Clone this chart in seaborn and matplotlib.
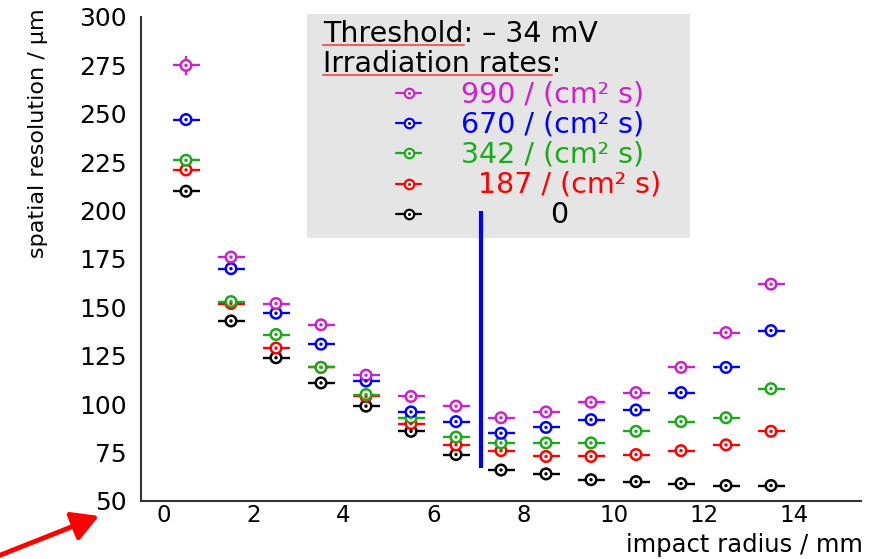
import numpy as np
import pandas as pd
import matplotlib
matplotlib.use("Agg")
import matplotlib.pyplot as plt
from matplotlib.patches import Rectangle
import seaborn as sns

# impact radius bin centres (mm)
radius = [0.5, 1.5, 2.5, 3.5, 4.5, 5.5, 6.5, 7.5, 8.5, 9.5, 10.5, 11.5, 12.5, 13.5]

# spatial resolution (µm) per irradiation rate
res_990 = [275, 176, 152, 141, 115, 104, 99, 93, 96, 101, 106, 119, 137, 162]
res_670 = [247, 170, 147, 131, 112, 96, 91, 85, 88, 92, 97, 106, 119, 138]
res_342 = [226, 153, 136, 119, 105, 93, 83, 80, 80, 80, 86, 91, 93, 108]
res_187 = [221, 152, 129, 119, 104, 90, 79, 76, 73, 73, 74, 76, 79, 86]
res_0 = [210, 143, 124, 111, 99, 86, 74, 66, 64, 61, 60, 59, 58, 58]

# vertical uncertainties (µm)
err_990 = [5, 1, 1, 1, 1, 1, 1, 1, 1, 1, 1, 1, 1, 1]
err_670 = [3.5, 1, 1, 1, 1, 1, 1, 1, 1, 1, 1, 1, 1, 1]
err_342 = [1] * 14
err_187 = [1] * 14
err_0 = [1] * 14

rate_keys = ["990", "670", "342", "187", "0"]
rate_labels = ["990 / (cm² s)", "670 / (cm² s)", "342 / (cm² s)", "187 / (cm² s)", "0"]
rate_colors = ["#cc22cc", "#0000ff", "#1aaa1a", "#ff0000", "#000000"]

# vertical marker line
marker_x = 7.05
marker_lo, marker_hi = 67, 200

series = {
    "990": (res_990, err_990),
    "670": (res_670, err_670),
    "342": (res_342, err_342),
    "187": (res_187, err_187),
    "0": (res_0, err_0),
}

rows = []
for key in rate_keys[::-1]:
    vals, errs = series[key]
    for r, v, e in zip(radius, vals, errs):
        rows.append({"radius": r, "resolution": v, "err": e, "rate": key})
df = pd.DataFrame(rows)

sns.set_theme(style="white")
plt.rcParams["font.family"] = ["DejaVu Sans"]
plt.rcParams["text.color"] = "black"

W, H = 877, 559
fig = plt.figure(figsize=(W / 100, H / 100), dpi=100)
ax = fig.add_axes([141 / W, 1 - 501 / H, 720 / W, 484 / H])
palette = dict(zip(rate_keys, rate_colors))

# horizontal bin widths and vertical errors
for key in rate_keys[::-1]:
    sub = df[df["rate"] == key]
    ax.errorbar(sub["radius"], sub["resolution"], xerr=0.3, yerr=sub["err"],
                fmt="none", ecolor=palette[key], elinewidth=1.7, capsize=0, zorder=2)

# open ring markers
sns.scatterplot(data=df, x="radius", y="resolution", hue="rate", palette=palette,
                marker="o", s=58, legend=False, ax=ax, zorder=3)
rings = ax.collections[-1]
fc = rings.get_facecolors()
rings.set_edgecolors(fc)
rings.set_facecolors("white")
rings.set_linewidths(1.8)

# centre dots
sns.scatterplot(data=df, x="radius", y="resolution", hue="rate", palette=palette,
                marker="o", s=6, linewidth=0, legend=False, ax=ax, zorder=4)

ax.vlines(marker_x, marker_lo, marker_hi, color="#0000ff", lw=3, zorder=6)

ax.set_xlim(-0.5, 15.5)
ax.set_ylim(50, 300)
ax.set_xticks(range(0, 15, 2))
ax.set_yticks(range(50, 301, 25))
ax.set_yticks([62.5], minor=True)
ax.set_xlabel("")
ax.set_ylabel("")
for s in ["top", "right"]:
    ax.spines[s].set_visible(False)
for s in ["left", "bottom"]:
    ax.spines[s].set_color("#333333")
    ax.spines[s].set_linewidth(1.5)
ax.tick_params(axis="y", which="major", direction="in", length=10, width=1.3,
               pad=10, labelsize=18, colors="#333333", labelcolor="black")
ax.tick_params(axis="y", which="minor", direction="in", length=5, width=1.3,
               colors="#333333")
ax.tick_params(axis="x", which="major", direction="in", length=6.5, width=1.3,
               pad=2, labelsize=16.5, colors="#333333", labelcolor="black")

fig.text(38 / W, 1 - 8 / H, "spatial resolution / µm", rotation=90,
         ha="center", va="top", fontsize=16, color="black")
fig.text(863 / W, 1 - 552 / H, "impact radius / mm", ha="right", va="baseline",
         fontsize=17.5, color="black")


def fx(px):
    return px / W


def fy(py):
    return 1 - py / H


# info box
ax.add_patch(Rectangle((fx(307), fy(238)), fx(690) - fx(307), fy(14) - fy(238),
                       transform=fig.transFigure, facecolor="#e5e5e5",
                       edgecolor="none", clip_on=False, zorder=5))

box_fs = 20.5
head_lines = [("Threshold", ": – 34 mV", 42), ("Irradiation rates", ":", 72)]
renderer = fig.canvas.get_renderer()
for word, rest, base in head_lines:
    ax.text(fx(323), fy(base), word + rest, transform=fig.transFigure,
            ha="left", va="baseline", fontsize=box_fs, color="black",
            zorder=7, clip_on=False)
    probe = ax.text(fx(323), fy(base), word, transform=fig.transFigure,
                    ha="left", va="baseline", fontsize=box_fs)
    bb = probe.get_window_extent(renderer=renderer)
    probe.remove()
    ax.plot([fx(323), bb.x1 / W], [fy(base + 3), fy(base + 3)],
            transform=fig.transFigure, color="#f06060", lw=1.5,
            clip_on=False, zorder=7)

entry_base = [102, 132, 162, 193, 223]
entry_text_x = [461, 461, 461, 478, 550]
for key, lab, base, tx in zip(rate_keys, rate_labels, entry_base, entry_text_x):
    c = palette[key]
    my = base - 9
    ax.plot([fx(396), fx(421)], [fy(my), fy(my)], transform=fig.transFigure,
            color=c, lw=1.6, clip_on=False, zorder=7)
    ax.plot([fx(408.5)], [fy(my)], transform=fig.transFigure, marker="o",
            ms=6.8, mfc="white", mec=c, mew=1.6, clip_on=False, zorder=8)
    ax.plot([fx(408.5)], [fy(my)], transform=fig.transFigure, marker="o",
            ms=2.2, mfc=c, mec=c, mew=0, clip_on=False, zorder=9)
    ax.text(fx(tx), fy(base), lab, transform=fig.transFigure, ha="left",
            va="baseline", fontsize=box_fs, color=c, zorder=8, clip_on=False)

# pointer towards the origin
ax.annotate("", xy=(99, 43), xycoords="figure pixels", xytext=(-12, -1),
            textcoords="figure pixels", annotation_clip=False,
            arrowprops=dict(arrowstyle="-|>,head_length=0.8,head_width=0.45",
                            color="red", lw=3.5, shrinkA=0, shrinkB=0,
                            mutation_scale=20))

fig.savefig("out.png", dpi=100, facecolor="white")
